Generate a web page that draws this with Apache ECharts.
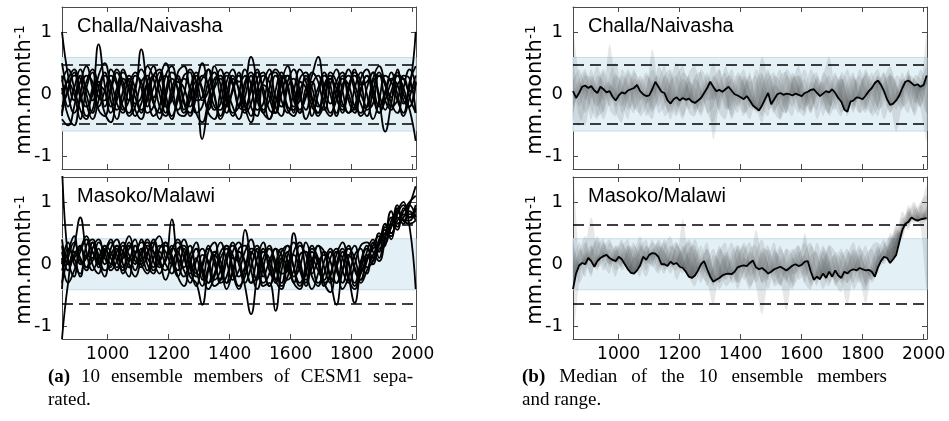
<!DOCTYPE html>
<html><head><meta charset="utf-8">
<script src="https://cdn.jsdelivr.net/npm/echarts@6/dist/echarts.min.js"></script>
<style>html,body{margin:0;padding:0;background:#fff}#c{width:949px;height:421px}</style>
</head><body><div id="c"></div>
<script>
const X_TICKS = [1000, 1200, 1400, 1600, 1800, 2000];
const Y_TICKS = [-1, 0, 1];
const X_MIN = 850, X_MAX = 2011, Y_MIN = -1.2, Y_MAX = 1.4;
const PANEL_NAMES = ['Challa/Naivasha', 'Masoko/Malawi'];
const CHALLA_BAND = 0.59, CHALLA_DASH = 0.48;
const MASOKO_BAND = 0.41, MASOKO_DASH = 0.64;
const CAPTION_A = [['(a)', '10 ensemble members of CESM1 sepa-'], ['', 'rated.']];
const CAPTION_B = [['(b)', 'Median of the 10 ensemble members'], ['', 'and range.']];

const YEARS_MEMBERS = [850,870,890,910,930,950,970,990,1010,1030,
  1050,1070,1090,1110,1130,1150,1170,1190,1210,1230,
  1250,1270,1290,1310,1330,1350,1370,1390,1410,1430,
  1450,1470,1490,1510,1530,1550,1570,1590,1610,1630,
  1650,1670,1690,1710,1730,1750,1770,1790,1810,1830,
  1850,1870,1890,1910,1930,1950,1970,1990,2010];

const YEARS_MEDIAN = [850,860,870,880,890,900,910,920,930,940,
  950,960,970,980,990,1000,1010,1020,1030,1040,
  1050,1060,1070,1080,1090,1100,1110,1120,1130,1140,
  1150,1160,1170,1180,1190,1200,1210,1220,1230,1240,
  1250,1260,1270,1280,1290,1300,1310,1320,1330,1340,
  1350,1360,1370,1380,1390,1400,1410,1420,1430,1440,
  1450,1460,1470,1480,1490,1500,1510,1520,1530,1540,
  1550,1560,1570,1580,1590,1600,1610,1620,1630,1640,
  1650,1660,1670,1680,1690,1700,1710,1720,1730,1740,
  1750,1760,1770,1780,1790,1800,1810,1820,1830,1840,
  1850,1860,1870,1880,1890,1900,1910,1920,1930,1940,
  1950,1960,1970,1980,1990,2000,2010];

const CHALLA_MEMBERS = [
  [0.30,-0.20,0.10,0.40,0.00,-0.30,0.10,0.35,-0.10,-0.40,
   0.05,0.30,0.10,-0.25,-0.10,0.30,0.40,0.00,-0.35,-0.10,
   0.25,0.10,-0.30,-0.20,0.20,0.35,-0.05,-0.30,0.10,0.30,
   -0.10,-0.35,0.05,0.30,0.20,-0.20,-0.35,0.10,0.25,-0.05,
   -0.25,0.15,0.30,0.00,-0.30,-0.10,0.25,0.15,-0.20,-0.30,
   0.10,0.35,0.00,-0.25,0.05,0.30,0.10,-0.20,0.20],
  [1.00,0.30,-0.10,0.20,0.45,0.10,-0.20,0.05,0.30,0.15,
   -0.20,-0.30,0.10,0.40,0.20,-0.15,-0.30,0.05,0.35,0.25,
   -0.10,-0.35,-0.05,0.30,0.15,-0.20,-0.25,0.20,0.40,0.05,
   -0.30,-0.15,0.25,0.35,-0.05,-0.30,0.00,0.30,0.10,-0.25,
   -0.05,0.35,0.20,-0.20,-0.35,0.05,0.30,0.00,-0.25,0.10,
   0.30,-0.05,-0.30,0.00,0.25,0.15,-0.15,0.10,1.00],
  [-0.30,0.10,0.35,-0.05,-0.20,0.00,0.80,0.15,-0.30,-0.10,
   0.25,0.10,-0.25,-0.40,0.00,0.30,0.15,-0.20,-0.10,0.35,
   0.45,0.05,-0.30,-0.45,-0.10,0.25,0.30,-0.10,-0.35,0.00,
   0.40,0.15,-0.25,-0.15,0.30,0.35,-0.10,-0.30,0.05,0.40,
   0.20,-0.20,-0.30,0.10,0.25,-0.05,-0.30,0.15,0.30,0.00,
   -0.20,0.20,0.30,-0.10,-0.25,0.15,0.25,-0.05,-0.30],
  [0.10,-0.35,-0.50,0.00,0.30,0.20,-0.25,-0.35,0.10,0.40,
   0.20,-0.10,0.05,0.72,0.10,-0.35,-0.20,0.30,0.45,0.05,
   -0.30,-0.10,0.30,0.10,-0.30,-0.40,0.05,0.35,0.20,-0.20,
   -0.25,0.15,0.40,0.00,-0.40,-0.15,0.25,0.30,-0.10,-0.30,
   0.10,0.20,-0.15,-0.25,0.15,0.40,0.05,-0.30,-0.20,0.25,
   0.40,0.05,-0.30,-0.10,0.20,0.35,0.00,-0.25,-0.75],
  [-0.20,0.05,0.30,0.25,-0.15,-0.40,-0.10,0.30,0.20,-0.15,
   -0.30,0.15,0.35,0.10,-0.30,-0.20,0.20,0.30,-0.05,-0.25,
   0.00,0.40,0.20,-0.72,-0.20,0.10,0.25,0.00,-0.30,-0.20,
   0.20,0.35,0.00,-0.30,-0.40,0.05,0.35,0.15,-0.20,-0.10,
   0.30,0.10,-0.20,-0.05,0.35,0.20,-0.15,-0.30,0.10,0.35,
   0.00,-0.40,-0.10,0.30,0.20,-0.10,-0.30,0.20,0.45],
  [0.50,0.00,-0.30,-0.10,0.20,0.40,0.10,-0.30,-0.45,0.00,
   0.35,0.20,-0.15,-0.05,0.45,0.25,-0.20,-0.35,0.00,0.20,
   0.10,-0.20,0.15,0.50,0.10,-0.25,-0.15,0.30,0.15,-0.20,
   0.10,0.60,0.20,-0.25,-0.10,0.30,0.15,-0.25,-0.35,0.05,
   0.25,-0.10,-0.30,0.15,0.30,-0.05,-0.25,0.05,0.35,0.20,
   -0.25,-0.15,0.30,0.20,-0.15,-0.30,0.10,0.40,0.15],
  [-0.40,-0.50,-0.20,0.30,0.10,-0.10,0.30,0.50,0.10,-0.25,
   -0.10,0.25,-0.05,-0.30,0.20,0.45,0.00,-0.30,0.10,0.30,
   -0.15,-0.30,0.05,0.25,0.40,0.00,-0.40,-0.15,0.25,0.10,
   -0.20,0.05,0.35,0.10,-0.25,-0.30,0.20,0.45,0.00,-0.30,
   0.00,0.30,0.60,0.10,-0.15,0.20,0.35,-0.10,-0.30,0.05,
   0.30,0.10,-0.20,0.05,0.35,0.00,-0.35,-0.05,0.30],
  [0.20,0.40,0.10,-0.25,-0.40,0.10,0.20,-0.20,0.05,0.35,
   0.10,-0.35,-0.20,0.20,0.30,-0.10,-0.40,-0.05,0.25,0.10,
   -0.25,0.10,0.35,0.05,-0.25,0.15,0.40,0.10,-0.20,-0.40,
   -0.05,0.30,-0.10,-0.30,0.10,0.40,0.25,-0.20,-0.25,0.25,
   0.35,-0.05,-0.35,-0.15,0.25,0.10,-0.20,0.10,0.40,0.15,
   0.20,0.35,-0.10,-0.60,-0.15,0.30,0.25,0.05,0.15],
  [0.00,0.25,0.40,0.05,-0.35,-0.25,0.15,0.05,-0.20,0.10,
   0.40,0.05,-0.35,-0.15,0.15,-0.05,0.25,0.50,0.15,-0.30,
   -0.35,0.00,0.20,-0.10,0.05,0.45,0.15,-0.20,0.05,0.35,
   -0.20,-0.45,-0.05,0.20,0.40,-0.05,-0.20,0.20,0.40,0.05,
   -0.40,-0.15,0.10,0.35,0.00,-0.30,0.15,0.30,0.05,-0.35,
   -0.20,0.25,0.45,0.15,-0.20,-0.10,0.30,0.25,-0.30],
  [-0.35,0.20,0.00,-0.40,0.10,0.35,-0.05,-0.10,0.40,0.20,
   -0.25,-0.10,0.30,0.20,-0.20,0.10,0.35,-0.15,-0.40,0.00,
   0.30,0.35,-0.10,-0.05,0.40,-0.05,-0.35,0.00,0.30,0.20,
   0.30,-0.20,-0.35,0.15,0.05,-0.30,0.30,0.10,-0.30,0.20,
   0.10,-0.35,0.00,0.30,0.15,-0.35,0.05,0.40,0.15,-0.15,
   -0.35,0.05,0.35,0.15,-0.05,0.40,-0.10,-0.20,0.20]
];

const MASOKO_MEMBERS = [
  [1.60,0.10,-0.20,0.30,0.10,0.35,0.00,0.20,0.40,0.05,
   -0.10,0.30,0.20,0.40,0.00,-0.15,0.25,0.35,0.05,-0.20,
   0.10,0.30,-0.10,-0.35,-0.05,0.20,0.05,-0.30,-0.15,0.25,
   0.30,-0.10,-0.40,-0.05,0.25,0.05,-0.35,-0.20,0.20,0.35,
   -0.10,-0.40,-0.15,0.20,0.05,-0.30,-0.10,0.25,0.10,-0.25,
   0.05,0.30,0.45,0.35,0.70,0.85,0.70,0.95,1.25],
  [-1.20,-0.30,0.20,0.05,-0.10,0.25,0.40,0.10,-0.05,0.30,
   0.20,-0.05,0.15,0.35,0.25,-0.10,0.05,0.30,0.15,-0.20,
   -0.35,0.00,0.25,-0.10,-0.30,-0.15,0.20,0.30,-0.05,-0.35,
   -0.20,0.15,0.30,-0.10,-0.35,0.00,0.25,0.05,-0.30,-0.40,
   0.00,0.30,0.05,-0.30,-0.20,0.20,0.10,-0.25,-0.40,0.00,
   0.25,0.10,0.40,0.55,0.50,0.80,0.95,0.80,0.85],
  [0.40,0.00,0.30,0.75,0.20,-0.10,0.10,0.30,0.00,0.20,
   0.35,0.00,-0.20,0.10,0.40,0.20,-0.05,0.05,0.30,0.10,
   -0.10,-0.30,0.05,0.25,0.00,-0.35,-0.25,0.15,0.30,0.00,
   -0.30,-0.05,0.25,0.00,-0.35,-0.10,0.20,0.30,-0.05,-0.30,
   -0.10,0.20,0.00,-0.35,-0.15,0.15,0.35,0.00,-0.30,0.05,
   0.30,0.05,0.35,0.50,0.75,0.60,0.90,0.60,-0.40],
  [-0.40,0.25,0.10,-0.20,0.30,0.40,0.05,-0.20,0.25,0.40,
   0.00,-0.20,0.30,0.15,-0.10,0.30,0.45,0.10,0.72,0.05,
   -0.20,0.05,0.25,-0.05,-0.30,0.10,0.35,0.05,-0.25,-0.10,
   0.20,0.40,0.00,-0.30,-0.15,0.25,0.15,-0.25,-0.10,0.30,
   0.15,-0.20,-0.35,0.05,0.25,-0.10,-0.30,0.10,0.30,-0.05,
   -0.15,0.35,0.20,0.60,0.40,0.75,0.65,0.85,0.70],
  [0.00,0.35,0.00,-0.15,0.15,0.10,0.35,0.20,-0.10,0.05,
   0.30,0.15,-0.10,0.20,0.35,0.05,-0.15,0.10,0.25,0.35,
   0.10,-0.20,-0.30,-0.65,-0.10,0.15,-0.05,-0.40,-0.10,0.20,
   0.05,-0.30,-0.20,0.20,0.10,-0.25,-0.40,0.00,0.15,-0.10,
   -0.35,0.05,0.30,-0.05,-0.30,-0.05,0.20,-0.20,-0.62,-0.10,
   0.15,0.00,0.25,0.30,0.65,0.55,0.80,0.75,0.80],
  [0.20,-0.10,0.15,0.30,-0.05,0.05,0.25,0.00,0.15,0.30,
   0.10,0.25,0.40,0.05,0.20,0.35,0.00,-0.10,0.20,0.40,
   0.20,-0.15,0.10,-0.25,0.20,0.35,-0.10,-0.30,0.10,0.05,
   0.55,0.10,-0.25,0.10,0.30,-0.05,-0.30,0.15,0.35,0.05,
   -0.25,-0.05,0.30,0.20,-0.20,-0.30,0.10,0.30,-0.10,-0.25,
   0.20,0.40,0.10,0.45,0.60,0.95,0.70,0.70,0.90],
  [-0.30,0.10,0.35,0.10,-0.05,0.20,-0.05,0.15,0.35,0.15,
   -0.05,0.10,0.00,0.25,0.10,-0.05,0.20,0.00,-0.15,0.15,
   0.40,0.10,-0.20,-0.05,0.30,0.00,-0.25,0.05,0.35,0.10,
   -0.35,-0.80,-0.20,0.25,0.00,-0.30,0.05,0.30,-0.05,-0.35,
   -0.15,0.25,0.10,-0.30,-0.45,0.00,0.25,0.05,-0.35,-0.15,
   0.10,0.25,0.35,0.65,0.50,0.70,0.85,1.00,1.10],
  [0.10,-0.30,-0.10,0.20,0.40,0.00,-0.15,0.25,0.10,-0.10,
   0.20,0.45,0.15,-0.05,0.15,0.40,0.10,-0.25,0.00,0.20,
   -0.05,0.15,0.35,-0.15,-0.40,-0.20,0.10,0.25,-0.15,-0.40,
   -0.10,0.20,0.00,-0.35,-0.30,-0.75,-0.10,0.20,-0.20,-0.05,
   0.35,0.05,-0.30,-0.15,0.20,0.00,-0.40,-0.20,0.15,0.25,
   -0.05,0.05,0.50,0.40,0.60,0.85,1.00,0.75,0.95],
  [-0.10,0.20,0.45,0.00,0.10,0.35,0.15,-0.10,0.00,0.25,
   -0.15,0.05,0.30,0.00,-0.15,0.10,0.30,0.20,0.00,0.25,
   0.30,0.00,-0.15,0.15,0.05,-0.25,-0.10,0.30,0.15,-0.20,
   -0.05,0.25,0.20,-0.20,0.05,0.25,-0.15,-0.10,0.50,0.00,
   -0.30,0.10,-0.10,-0.25,0.10,0.25,-0.10,-0.30,0.00,0.30,
   0.35,0.20,0.05,0.40,0.85,0.65,0.75,0.95,0.75],
  [0.30,0.00,0.10,0.25,0.45,0.20,0.00,0.30,0.20,-0.05,
   0.10,0.35,0.05,0.00,0.30,0.20,0.05,0.35,0.10,-0.10,
   0.25,-0.05,-0.35,0.00,0.25,0.10,-0.30,-0.20,0.20,0.35,
   0.00,-0.30,0.10,0.35,-0.10,-0.25,0.10,-0.05,-0.30,0.15,
   0.20,-0.15,0.05,0.15,-0.25,-0.65,-0.10,0.15,-0.05,-0.30,
   -0.10,0.15,0.30,0.50,0.45,0.90,0.70,0.65,0.70]
];

const CHALLA_MEDIAN = [0.05,-0.06,0.02,0.12,0.14,0.10,0.13,0.06,0.02,0.12,
  0.08,0.03,0.05,-0.04,-0.10,-0.02,0.03,0.01,0.06,0.08,
  0.10,0.15,0.05,0.00,-0.03,-0.02,0.08,0.20,0.12,0.04,
  0.02,-0.10,-0.15,-0.08,-0.05,-0.10,-0.06,-0.09,-0.07,-0.12,
  -0.14,-0.10,-0.06,0.02,0.10,0.20,0.12,0.05,0.07,0.04,
  0.08,0.12,0.06,0.00,-0.02,-0.05,-0.08,-0.03,-0.10,-0.18,
  -0.22,-0.26,-0.18,-0.08,0.02,-0.16,-0.08,0.00,0.02,-0.01,
  0.01,0.00,-0.02,0.01,-0.01,-0.03,0.02,0.04,0.07,0.08,
  0.02,-0.03,0.01,0.05,0.03,0.08,0.02,-0.06,-0.12,-0.25,
  -0.28,-0.12,-0.10,-0.05,-0.06,-0.08,-0.02,0.05,0.10,0.18,
  0.22,0.15,0.05,-0.08,-0.17,-0.15,-0.10,-0.02,0.10,0.20,
  0.22,0.18,0.14,0.16,0.12,0.15,0.30];

const MASOKO_MEDIAN = [-0.40,-0.15,-0.02,0.02,0.00,0.10,0.05,-0.04,0.05,0.10,
  0.13,0.15,0.10,0.07,0.05,0.12,0.08,0.00,-0.08,-0.14,
  -0.15,-0.10,-0.02,0.12,0.07,0.15,0.18,0.17,0.12,0.00,
  0.00,-0.03,0.04,0.00,0.02,-0.04,-0.06,-0.12,-0.20,-0.22,
  -0.18,-0.10,0.00,0.05,-0.08,-0.20,-0.28,-0.25,-0.22,-0.18,
  -0.16,-0.15,-0.16,-0.12,-0.05,-0.03,-0.02,-0.03,0.02,0.06,
  -0.05,-0.08,-0.06,-0.10,-0.15,-0.12,-0.08,-0.06,-0.04,-0.07,
  -0.10,-0.06,-0.02,0.00,-0.03,-0.01,0.04,0.05,-0.12,-0.25,
  -0.20,-0.24,-0.15,-0.22,-0.12,-0.20,-0.10,-0.18,-0.22,-0.12,
  -0.15,-0.10,-0.08,-0.10,-0.06,-0.08,-0.10,-0.09,-0.12,-0.20,
  -0.05,0.05,0.12,0.10,0.02,0.08,0.15,0.35,0.55,0.65,
  0.68,0.75,0.72,0.70,0.72,0.73,0.74];

const AXIS_COLOR = '#4a4a4a';
const GRIDS = [
  {left: 62, top: 7, width: 354, height: 162},
  {left: 62, top: 177, width: 354, height: 162},
  {left: 573, top: 7, width: 354, height: 162},
  {left: 573, top: 177, width: 354, height: 162}
];

const xAxes = [], yAxes = [], series = [], graphics = [];
GRIDS.forEach((g, gi) => {
  const bottomPanel = gi % 2 === 1;
  ['bottom', 'top'].forEach(pos => {
    xAxes.push({
      type: 'value', gridIndex: gi, position: pos, min: X_MIN, max: X_MAX,
      axisLine: {show: true, onZero: false, lineStyle: {color: AXIS_COLOR, width: 1}},
      axisTick: {show: true, inside: true, length: 5, customValues: X_TICKS, lineStyle: {color: AXIS_COLOR}},
      axisLabel: {show: pos === 'bottom' && bottomPanel, customValues: X_TICKS, margin: 7,
        formatter: v => String(v),
        fontFamily: 'DejaVu Sans', fontSize: 17, color: '#000'},
      splitLine: {show: false}
    });
  });
  ['left', 'right'].forEach(pos => {
    yAxes.push({
      type: 'value', gridIndex: gi, position: pos, min: Y_MIN, max: Y_MAX,
      axisLine: {show: true, onZero: false, lineStyle: {color: AXIS_COLOR, width: 1}},
      axisTick: {show: true, inside: true, length: 5, customValues: Y_TICKS, lineStyle: {color: AXIS_COLOR}},
      axisLabel: {show: pos === 'left', customValues: Y_TICKS, margin: 10,
        formatter: v => String(v),
        fontFamily: 'DejaVu Sans', fontSize: 18, color: '#000'},
      splitLine: {show: false}
    });
  });
  const members = bottomPanel ? MASOKO_MEMBERS : CHALLA_MEMBERS;
  const median = bottomPanel ? MASOKO_MEDIAN : CHALLA_MEDIAN;
  const band = bottomPanel ? MASOKO_BAND : CHALLA_BAND;
  const dash = bottomPanel ? MASOKO_DASH : CHALLA_DASH;
  const xi = gi * 2, yi = gi * 2;
  series.push({
    type: 'line', xAxisIndex: xi, yAxisIndex: yi, data: [], z: 1, silent: true,
    markArea: {silent: true, itemStyle: {color: '#e3f0f6', borderColor: '#c6dde8', borderWidth: 1},
      data: [[{yAxis: -band}, {yAxis: band}]]}
  });
  series.push({
    type: 'line', xAxisIndex: xi, yAxisIndex: yi, data: [], z: 4, silent: true,
    markLine: {silent: true, symbol: ['none', 'none'], label: {show: false},
      lineStyle: {color: '#000', type: [11, 6], width: 1.6},
      data: [{yAxis: dash}, {yAxis: -dash}]}
  });
  if (gi < 2) {
    members.forEach(m => {
      series.push({
        type: 'line', xAxisIndex: xi, yAxisIndex: yi, z: 3, smooth: 0.45, showSymbol: false, silent: true,
        clip: true, lineStyle: {color: '#000', width: 1.8},
        data: YEARS_MEMBERS.map((y, i) => [y, m[i]])
      });
    });
  } else {
    members.forEach(m => {
      series.push({
        type: 'custom', xAxisIndex: xi, yAxisIndex: yi, z: 2, clip: true, silent: true,
        data: [[X_MIN, 0]],
        renderItem: (params, api) => {
          const pts = [];
          for (let i = 0; i < YEARS_MEMBERS.length; i++) pts.push(api.coord([YEARS_MEMBERS[i], m[i]]));
          for (let i = YEARS_MEDIAN.length - 1; i >= 0; i--) pts.push(api.coord([YEARS_MEDIAN[i], median[i]]));
          return {type: 'polygon', shape: {points: pts, smooth: 0.3},
            style: {fill: 'rgba(60,60,60,0.12)', stroke: null}};
        }
      });
    });
    series.push({
      type: 'line', xAxisIndex: xi, yAxisIndex: yi, z: 5, showSymbol: false, silent: true,
      lineStyle: {color: '#000', width: 1.8},
      data: YEARS_MEDIAN.map((y, i) => [y, median[i]])
    });
  }
  graphics.push({
    type: 'text', x: g.left + 15, y: g.top + 19,
    style: {text: PANEL_NAMES[gi % 2], fontFamily: 'Liberation Sans', fontSize: 20, fill: '#000',
      align: 'left', verticalAlign: 'middle'}
  });
  graphics.push({
    type: 'text', x: g.left - 37, y: g.top + 83, rotation: Math.PI / 2,
    style: {text: '{a|mm.month}{s|-1}', align: 'center', verticalAlign: 'middle',
      rich: {a: {fontFamily: 'DejaVu Sans', fontSize: 21, fill: '#000', lineHeight: 24},
             s: {fontFamily: 'DejaVu Sans', fontSize: 14, fill: '#000', verticalAlign: 'top', lineHeight: 24}}}
  });
});

// Caption layout: first line of each caption is justified (LaTeX style) to the caption width.
const CAP_FONT = 19, CAP_FAMILY = 'Liberation Serif';
const measureCtx = document.createElement('canvas').getContext('2d');
function textWidth(t, bold) {
  measureCtx.font = (bold ? 'bold ' : '') + CAP_FONT + 'px "' + CAP_FAMILY + '"';
  return measureCtx.measureText(t).width;
}
function captionLine(label, text, x0, x1, y, justify) {
  const words = [];
  if (label) words.push({t: label, bold: true});
  text.split(' ').forEach(w => words.push({t: w, bold: false}));
  const widths = words.map(w => textWidth(w.t, w.bold));
  const total = widths.reduce((a, b) => a + b, 0);
  const gap = justify && words.length > 1 ? (x1 - x0 - total) / (words.length - 1) : textWidth(' ', false);
  let x = x0;
  words.forEach((w, i) => {
    graphics.push({type: 'text', x: x, y: y, style: {text: w.t, fontFamily: CAP_FAMILY, fontSize: CAP_FONT,
      fontWeight: w.bold ? 'bold' : 'normal', fill: '#000', align: 'left', verticalAlign: 'middle'}});
    x += widths[i] + gap;
  });
}
captionLine(CAPTION_A[0][0], CAPTION_A[0][1], 48, 413, 377, true);
captionLine(CAPTION_A[1][0], CAPTION_A[1][1], 48, 413, 400, false);
captionLine(CAPTION_B[0][0], CAPTION_B[0][1], 522, 887, 377, true);
captionLine(CAPTION_B[1][0], CAPTION_B[1][1], 522, 887, 400, false);

const chart = echarts.init(document.getElementById('c'), null, {renderer: 'canvas'});
chart.setOption({
  animation: false,
  backgroundColor: '#fff',
  grid: GRIDS.map(g => Object.assign({containLabel: false}, g)),
  xAxis: xAxes,
  yAxis: yAxes,
  series: series,
  graphic: graphics
});
</script></body></html>
